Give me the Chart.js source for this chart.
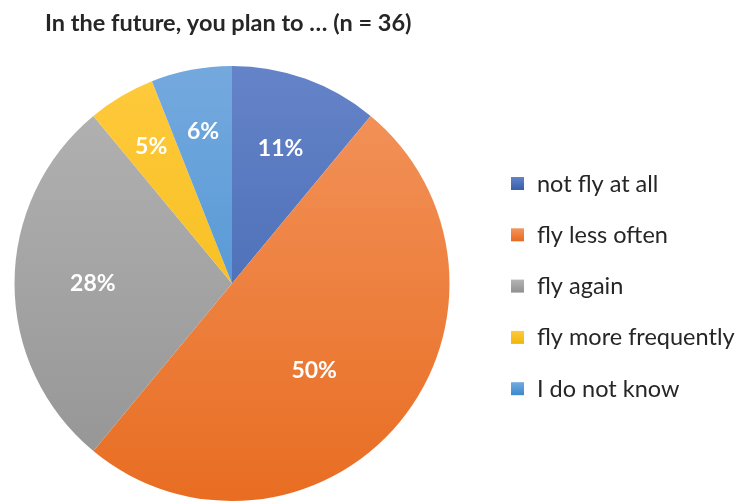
<!DOCTYPE html>
<html>
<head>
<meta charset="utf-8">
<script src="https://cdn.jsdelivr.net/npm/chart.js@4"></script>
<style>
  html, body { margin: 0; padding: 0; background: #fff; }
  #wrap { width: 736px; height: 502px; position: relative; }
</style>
</head>
<body>
<div id="wrap"><canvas id="pie"></canvas></div>
<script>
// chart values
var chartTitle = 'In the future, you plan to \u2026 (n = 36)';
var categories = ['not fly at all', 'fly less often', 'fly again', 'fly more frequently', 'I do not know'];
var shares = [11, 50, 28, 5, 6];

// colours: [top of gradient, bottom of gradient]
var sliceColors = [
  ['#6583c8', '#3961ac'],
  ['#f3955e', '#e86d22'],
  ['#b4b4b4', '#939393'],
  ['#ffca3d', '#f0b70c'],
  ['#74a9de', '#3e8bcf']
];

var FONT = 'Lato, "Open Sans", sans-serif';

function sliceFill(context) {
  var c = sliceColors[context.dataIndex];
  var area = context.chart.chartArea;
  if (!area) return c[1];
  var g = context.chart.ctx.createLinearGradient(0, area.top, 0, area.bottom);
  g.addColorStop(0, c[0]);
  g.addColorStop(1, c[1]);
  return g;
}

// where the % labels sit: part of the radius, and a small turn (degrees)
var labelRadius = [0.66, 0.55, 0.64, 0.73, 0.71];
var labelTurn = [0, 7, 0, 0, 0];

var extrasPlugin = {
  id: 'extras',
  afterDatasetsDraw: function(chart) {
    var ctx = chart.ctx;
    var meta = chart.getDatasetMeta(0);
    ctx.save();
    // percentage labels
    ctx.fillStyle = '#ffffff';
    ctx.font = 'bold 23px ' + FONT;
    ctx.textAlign = 'center';
    ctx.textBaseline = 'middle';
    meta.data.forEach(function(arc, i) {
      var p = arc.getProps(['x', 'y', 'startAngle', 'endAngle', 'outerRadius'], true);
      var mid = (p.startAngle + p.endAngle) / 2 + labelTurn[i] * Math.PI / 180;
      var r = p.outerRadius * labelRadius[i];
      ctx.fillText(shares[i] + '%', p.x + Math.cos(mid) * r, p.y + Math.sin(mid) * r);
    });

    // title
    ctx.fillStyle = '#262626';
    ctx.font = 'bold 23.5px ' + FONT;
    ctx.textAlign = 'left';
    ctx.fillText(chartTitle, 45, 23);

    // legend
    ctx.font = '23.5px ' + FONT;
    categories.forEach(function(name, i) {
      var y = 183 + i * 51.3;
      var g = ctx.createLinearGradient(0, y - 6, 0, y + 6);
      g.addColorStop(0, sliceColors[i][0]);
      g.addColorStop(1, sliceColors[i][1]);
      ctx.fillStyle = g;
      ctx.fillRect(511, y - 6, 13, 13);
      ctx.fillStyle = '#262626';
      ctx.fillText(name, 537, y + 1);
    });
    ctx.restore();
  }
};

new Chart(document.getElementById('pie'), {
  type: 'pie',
  data: {
    labels: categories,
    datasets: [{
      data: shares,
      backgroundColor: sliceFill,
      borderWidth: 0
    }]
  },
  options: {
    responsive: true,
    maintainAspectRatio: false,
    animation: false,
    layout: { padding: { left: 12, right: 284, top: 66, bottom: 1 } },
    plugins: {
      legend: { display: false },
      title: { display: false },
      tooltip: { enabled: false }
    }
  },
  plugins: [extrasPlugin]
});
</script>
</body>
</html>
